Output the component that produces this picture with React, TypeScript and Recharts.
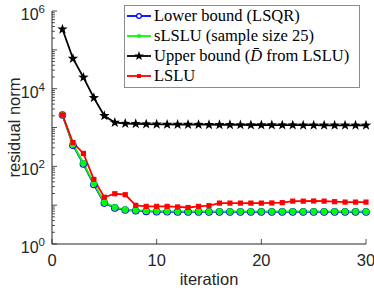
import React from 'react'
import { LineChart, Line, XAxis, YAxis, Legend } from 'recharts'

const iterations = [1, 2, 3, 4, 5, 6, 7, 8, 9, 10, 11, 12, 13, 14, 15, 16, 17, 18, 19, 20, 21, 22, 23, 24, 25, 26, 27, 28, 29, 30]
const lowerBound = [2100, 350, 115, 34, 11.3, 8.5, 7.5, 7.2, 6.9, 6.8, 6.75, 6.7, 6.7, 6.7, 6.7, 6.7, 6.7, 6.7, 6.7, 6.7, 6.7, 6.7, 6.7, 6.7, 6.7, 6.7, 6.7, 6.7, 6.7, 6.7]
const sampledLSLU = [2100, 370, 120, 36, 11.8, 8.8, 7.7, 7.4, 7.1, 7.0, 6.95, 6.9, 6.9, 6.9, 6.9, 6.9, 6.9, 6.9, 6.9, 6.9, 6.9, 6.9, 6.9, 6.9, 6.9, 6.9, 6.9, 6.9, 6.9, 6.9]
const upperBound = [340000, 60000, 19500, 5800, 2000, 1350, 1260, 1240, 1220, 1210, 1200, 1195, 1190, 1185, 1180, 1175, 1170, 1165, 1160, 1160, 1155, 1150, 1150, 1145, 1145, 1140, 1140, 1140, 1135, 1135]
const lslu = [2100, 410, 215, 46, 16, 19.7, 18.6, 9.9, 9.3, 9.3, 9.3, 9.0, 8.7, 9.3, 9.7, 11.3, 11.3, 11.3, 11.3, 11.3, 11.4, 11.6, 12.7, 12.7, 12.8, 12.7, 12.3, 12.0, 12.0, 12.0]

const xTicks = [0, 10, 20, 30]
const yLabelTicks = [1, 100, 10000, 1000000]

const data = iterations.map((it, i) => ({
  iter: it,
  lower: lowerBound[i],
  slslu: sampledLSLU[i],
  upper: upperBound[i],
  lslu: lslu[i],
}))

// all decade + minor tick positions for the log axis
const yTicks: number[] = []
for (let e = 0; e < 6; e++) {
  for (let m = 1; m < 10; m++) yTicks.push(m * Math.pow(10, e))
}
yTicks.push(1000000)

const AXIS = '#262626'
const SANS = '"Liberation Sans", Arial, sans-serif'

const starPath = (cx: number, cy: number, R: number, r: number) => {
  let d = ''
  for (let k = 0; k < 10; k++) {
    const rad = k % 2 === 0 ? R : r
    const a = -Math.PI / 2 + (k * Math.PI) / 5
    d += (k === 0 ? 'M' : 'L') + (cx + rad * Math.cos(a)).toFixed(2) + ',' + (cy + rad * Math.sin(a)).toFixed(2)
  }
  return d + 'Z'
}

const BlueDot = (p: any) => <circle key={p.index} cx={p.cx} cy={p.cy} r={3.2} fill="none" stroke="#0000ff" strokeWidth={1.2} />
const GreenDot = (p: any) => <circle key={p.index} cx={p.cx} cy={p.cy} r={3} fill="#00ff00" stroke="#00ff00" strokeWidth={0.6} />
const StarDot = (p: any) => <path key={p.index} d={starPath(p.cx, p.cy, 5.5, 2.2)} fill="#000" />
const SquareDot = (p: any) => <rect key={p.index} x={p.cx - 2.6} y={p.cy - 2.6} width={5.2} height={5.2} fill="#ff0000" />

const YTick = (props: any) => {
  const { x, y, payload } = props
  const v = payload.value
  const exp = Math.round(Math.log10(v))
  const labelled = yLabelTicks.includes(v)
  const decade = Math.abs(Math.pow(10, exp) - v) < 1e-6 * v
  const len = labelled || decade ? 5 : 3
  return (
    <g>
      <line x1={x} x2={x + len} y1={y} y2={y} stroke={AXIS} strokeWidth={0.8} />
      {labelled && (
        <text x={x - 7} y={y + 9} textAnchor="end" fontSize={16} fill={AXIS} fontFamily={SANS}>
          10<tspan dy={-7} fontSize={11.5}>{exp}</tspan>
        </text>
      )}
    </g>
  )
}

const XTick = (props: any) => {
  const { x, y, payload } = props
  return (
    <g>
      <line x1={x} x2={x} y1={y} y2={y - 5} stroke={AXIS} strokeWidth={0.8} />
      <text x={x} y={y + 22} textAnchor="middle" fontSize={16.5} fill={AXIS} fontFamily={SANS}>
        {payload.value}
      </text>
    </g>
  )
}

const legendItems = [
  { label: <>Lower bound (LSQR)</>, color: '#0000ff', marker: 'circle' },
  { label: <>sLSLU (sample size 25)</>, color: '#00ff00', marker: 'dot' },
  { label: <>Upper bound (<i>D&#772;</i> from LSLU)</>, color: '#000000', marker: 'star' },
  { label: <>LSLU</>, color: '#ff0000', marker: 'square' },
]

const LegendBox = () => (
  <div
    style={{
      border: '1px solid #8c8c8c',
      background: '#fff',
      padding: '0px 2px 1px 1px',
      fontFamily: '"Liberation Serif", "Times New Roman", serif',
      fontSize: 16.5,
      color: '#000',
      width: 231,
    }}
  >
    {legendItems.map((it, i) => (
      <div key={i} style={{ display: 'flex', alignItems: 'center', height: 20, whiteSpace: 'nowrap' }}>
        <svg width={26} height={20} style={{ flex: 'none' }}>
          <line x1={1} x2={25} y1={10} y2={10} stroke={it.color} strokeWidth={1.8} />
          {it.marker === 'circle' && <circle cx={13} cy={10} r={2.4} fill="#fff" stroke={it.color} strokeWidth={1.2} />}
          {it.marker === 'dot' && <circle cx={13} cy={10} r={2} fill={it.color} />}
          {it.marker === 'star' && <path d={starPath(13, 10, 5, 2)} fill="#000" />}
          {it.marker === 'square' && <rect x={11} y={8} width={4} height={4} fill={it.color} />}
        </svg>
        <span style={{ marginLeft: 2 }}>{it.label}</span>
      </div>
    ))}
  </div>
)

export default function App() {
  return (
    <div style={{ position: 'absolute', left: 0, top: 0, background: '#fff' }}>
      <LineChart width={374} height={288} data={data} margin={{ top: 11, right: 8, bottom: 0, left: 0 }}>
        <XAxis
          dataKey="iter"
          type="number"
          domain={[0, 30]}
          ticks={xTicks}
          interval={0}
          height={44}
          stroke={AXIS}
          tickLine={false}
          tickSize={0}
          tickMargin={0}
          tick={<XTick />}
          label={{ value: 'iteration', position: 'insideBottom', offset: 3, fill: AXIS, fontSize: 16.5, fontFamily: SANS }}
        />
        <YAxis
          scale="log"
          domain={[1, 1000000]}
          allowDataOverflow
          ticks={yTicks}
          interval={0}
          width={52}
          stroke={AXIS}
          tickLine={false}
          tickSize={0}
          tickMargin={0}
          tick={<YTick />}
          label={{ value: 'residual norm', angle: -90, position: 'insideLeft', offset: 14, fill: AXIS, fontSize: 16.5, fontFamily: SANS, style: { textAnchor: 'middle' } }}
        />
        <Legend
          layout="vertical"
          align="center"
          verticalAlign="middle"
          content={<LegendBox />}
          wrapperStyle={{ position: 'absolute', left: 124, top: 5, width: 'auto' }}
        />
        <Line dataKey="lower" stroke="#0000ff" strokeWidth={1.8} dot={BlueDot} isAnimationActive={false} />
        <Line dataKey="slslu" stroke="#00ff00" strokeWidth={1.8} dot={GreenDot} isAnimationActive={false} />
        <Line dataKey="upper" stroke="#000000" strokeWidth={1.8} dot={StarDot} isAnimationActive={false} />
        <Line dataKey="lslu" stroke="#ff0000" strokeWidth={1.8} dot={SquareDot} isAnimationActive={false} />
      </LineChart>
    </div>
  )
}
